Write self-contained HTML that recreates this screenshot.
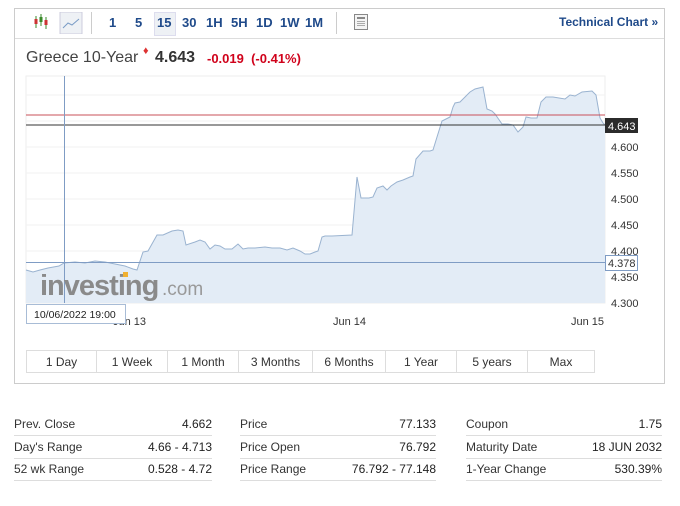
<!DOCTYPE html>
<html><head><style>
body{margin:0;width:680px;height:506px;background:#fff;font-family:"Liberation Sans",Arial,sans-serif;position:relative;overflow:hidden}
.a{position:absolute}
.tb{color:#1f4a8a;font-weight:bold;font-size:13px}
.btn{position:absolute;top:350px;height:23px;border:1px solid #ddd;box-sizing:border-box;font-size:12px;color:#333;text-align:center;line-height:22px}
.row{position:absolute;height:22px;border-bottom:1px solid #ddd;font-size:12px;color:#333;line-height:22px}
.row b{position:absolute;right:0;font-weight:normal;color:#222}
</style></head><body>
<div class="a" style="left:14px;top:8px;width:651px;height:376px;border:1px solid #ccc;box-sizing:border-box"></div>
<div class="a" style="left:15px;top:38px;width:649px;height:1px;background:#ddd"></div>
<svg class="a" style="left:32px;top:12px" width="60" height="22">
<g stroke="#3a8a2a" stroke-width="1"><line x1="4" y1="4" x2="4" y2="16"/><line x1="9" y1="2" x2="9" y2="14"/><line x1="14" y1="5" x2="14" y2="17"/></g>
<g fill="#c33"><rect x="2.5" y="7" width="3" height="5"/><rect x="12.5" y="8" width="3" height="5"/></g><rect x="7.5" y="5" width="3" height="5" fill="#3a8a2a"/>
<rect x="28" y="0" width="22" height="22" fill="#eef1f5" stroke="#ccd" /><polyline points="31,16 36,11 40,13 47,7" fill="none" stroke="#7a9cc6"/>
</svg>
<div class="a" style="left:91px;top:12px;width:1px;height:22px;background:#ccc"></div>
<div class="a" style="left:154px;top:12px;width:20px;height:22px;background:#eef1f5;border:1px solid #dde"></div>
<div class="a tb" style="left:109px;top:15px">1</div>
<div class="a tb" style="left:135px;top:15px">5</div>
<div class="a tb" style="left:157px;top:15px">15</div>
<div class="a tb" style="left:182px;top:15px">30</div>
<div class="a tb" style="left:206px;top:15px">1H</div>
<div class="a tb" style="left:231px;top:15px">5H</div>
<div class="a tb" style="left:256px;top:15px">1D</div>
<div class="a tb" style="left:280px;top:15px">1W</div>
<div class="a tb" style="left:305px;top:15px">1M</div>
<div class="a" style="left:336px;top:12px;width:1px;height:22px;background:#ccc"></div>
<div class="a" style="left:354px;top:14px;width:14px;height:16px;border:1px solid #888;background:#f4f4f4;box-sizing:border-box"><div style="margin:2px;height:2px;background:#888"></div><div style="margin:2px;height:6px;background:repeating-linear-gradient(#aaa 0 1px,transparent 1px 2px)"></div></div>
<div class="a tb" style="left:559px;top:15px;font-size:12px">Technical Chart »</div>
<div class="a" style="left:26px;top:49px;font-size:16px;color:#444">Greece 10-Year</div>
<div class="a" style="left:143px;top:45px;font-size:11px;color:#d33">♦</div>
<div class="a" style="left:155px;top:49px;font-size:16px;font-weight:bold;color:#333">4.643</div>
<div class="a" style="left:207px;top:51px;font-size:13px;font-weight:bold;color:#d0021b">-0.019 &nbsp;(-0.41%)</div>
<svg class="a" style="left:0;top:0" width="680" height="340">
<rect x="26" y="76" width="579" height="227" fill="#fff" stroke="#eee"/>
<g stroke="#f2f2f2"><line x1="26" x2="605" y1="147" y2="147"/><line x1="26" x2="605" y1="173" y2="173"/><line x1="26" x2="605" y1="199" y2="199"/><line x1="26" x2="605" y1="225" y2="225"/><line x1="26" x2="605" y1="251" y2="251"/><line x1="26" x2="605" y1="277" y2="277"/><line x1="26" x2="605" y1="121" y2="121"/><line x1="26" x2="605" y1="95" y2="95"/></g>
<polygon fill="#e3ecf6" stroke="none" points="26,303 26,270 33,272 40,270 48,268 59,266 64,263 75,262 85,263 95,261 105,262 115,264 125,266 133,269 137,270 143,252 148,251 157,235 163,235 172,231 178,230 183,231 186,245 195,242 200,240 205,242 210,249 215,245 220,246 225,249 232,249 238,244 243,249 248,248 255,248 265,247 272,248 280,248 287,250 293,248 300,251 305,254 310,254 315,252 318,251 322,237 325,236 332,236 352,235 357,177 361,198 369,198 373,197 377,188 383,186 387,190 391,186 397,182 403,180 410,177 413,176 416,159 423,151 430,151 433,150 437,137 442,121 448,118 450,117 453,107 455,103 460,102 470,92 475,89 483,87 487,109 492,111 495,114 502,124 508,124 513,125 518,132 523,127 526,117 531,118 537,118 541,102 546,97 553,97 565,99 570,95 575,96 582,92 592,91 596,95 600,118 603,123 605,125 605,303"/>
<polyline fill="none" stroke="#9ab3d0" stroke-width="1" points="26,270 33,272 40,270 48,268 59,266 64,263 75,262 85,263 95,261 105,262 115,264 125,266 133,269 137,270 143,252 148,251 157,235 163,235 172,231 178,230 183,231 186,245 195,242 200,240 205,242 210,249 215,245 220,246 225,249 232,249 238,244 243,249 248,248 255,248 265,247 272,248 280,248 287,250 293,248 300,251 305,254 310,254 315,252 318,251 322,237 325,236 332,236 352,235 357,177 361,198 369,198 373,197 377,188 383,186 387,190 391,186 397,182 403,180 410,177 413,176 416,159 423,151 430,151 433,150 437,137 442,121 448,118 450,117 453,107 455,103 460,102 470,92 475,89 483,87 487,109 492,111 495,114 502,124 508,124 513,125 518,132 523,127 526,117 531,118 537,118 541,102 546,97 553,97 565,99 570,95 575,96 582,92 592,91 596,95 600,118 603,123 605,125"/>
<line x1="26" x2="605" y1="115" y2="115" stroke="#c8505a"/>
<line x1="26" x2="605" y1="125" y2="125" stroke="#333"/>
<line x1="26" x2="605" y1="262.5" y2="262.5" stroke="#7f9cc4"/>
<line x1="64.5" x2="64.5" y1="76" y2="303" stroke="#7f9cc4"/>
<text x="40" y="295" font-family="Liberation Sans" font-weight="bold" font-size="29" fill="#8a8a8a" letter-spacing="-1">investing</text>
<text x="162" y="295" font-family="Liberation Sans" font-size="19" fill="#999">.com</text>
<rect x="123" y="272" width="5" height="5" fill="#f0b030"/>
<g font-family="Liberation Sans" font-size="11" fill="#333">
<text x="611" y="151">4.600</text><text x="611" y="177">4.550</text><text x="611" y="203">4.500</text><text x="611" y="229">4.450</text><text x="611" y="255">4.400</text><text x="611" y="281">4.350</text><text x="611" y="307">4.300</text>
<text x="113" y="325">Jun 13</text><text x="333" y="325">Jun 14</text><text x="571" y="325">Jun 15</text>
</g>
<rect x="605" y="118" width="33" height="15" fill="#2b2b2b"/>
<text x="608" y="130" font-family="Liberation Sans" font-size="11" fill="#fff">4.643</text>
<rect x="605.5" y="255.5" width="32" height="15" fill="#fff" stroke="#7f9cc4"/>
<text x="608" y="267" font-family="Liberation Sans" font-size="11" fill="#333">4.378</text>
<rect x="26.5" y="304.5" width="99" height="19" fill="#fff" stroke="#a8bcd6"/>
<text x="34" y="318" font-family="Liberation Sans" font-size="10.5" fill="#222">10/06/2022 19:00</text>
</svg>
<div class="btn" style="left:26px;width:71px">1 Day</div>
<div class="btn" style="left:96px;width:72px">1 Week</div>
<div class="btn" style="left:167px;width:72px">1 Month</div>
<div class="btn" style="left:238px;width:75px">3 Months</div>
<div class="btn" style="left:312px;width:74px">6 Months</div>
<div class="btn" style="left:385px;width:72px">1 Year</div>
<div class="btn" style="left:456px;width:72px">5 years</div>
<div class="btn" style="left:527px;width:68px">Max</div>
<div class="row" style="left:14px;top:413px;width:198px">Prev. Close<b>4.662</b></div>
<div class="row" style="left:14px;top:436px;width:198px">Day's Range<b>4.66 - 4.713</b></div>
<div class="row" style="left:14px;top:458px;width:198px">52 wk Range<b>0.528 - 4.72</b></div>
<div class="row" style="left:240px;top:413px;width:196px">Price<b>77.133</b></div>
<div class="row" style="left:240px;top:436px;width:196px">Price Open<b>76.792</b></div>
<div class="row" style="left:240px;top:458px;width:196px">Price Range<b>76.792 - 77.148</b></div>
<div class="row" style="left:466px;top:413px;width:196px">Coupon<b>1.75</b></div>
<div class="row" style="left:466px;top:436px;width:196px">Maturity Date<b>18 JUN 2032</b></div>
<div class="row" style="left:466px;top:458px;width:196px">1-Year Change<b>530.39%</b></div>
</body></html>
